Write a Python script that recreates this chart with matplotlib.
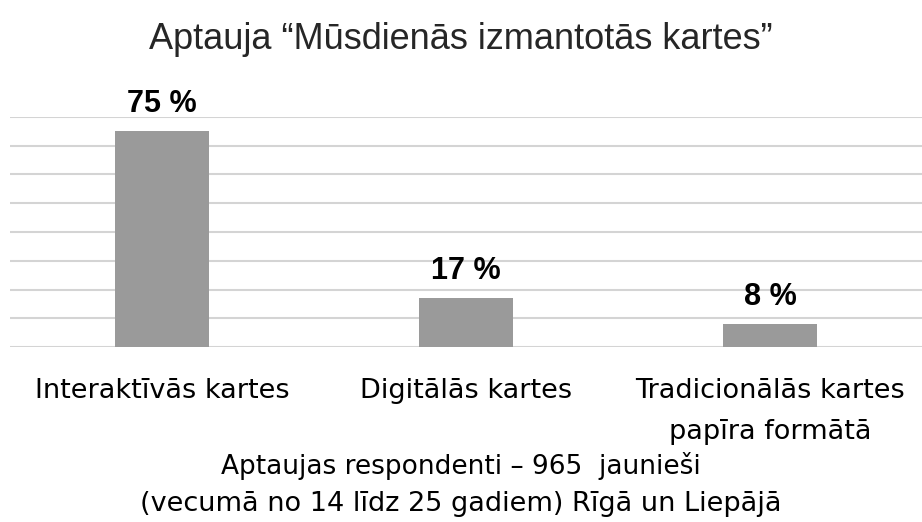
import matplotlib
matplotlib.use("Agg")
import matplotlib.pyplot as plt

# dati
kategorijas = ["Interaktīvās kartes", "Digitālās kartes", "Tradicionālās kartes\npapīra formātā"]
vertibas = [75, 17, 8]
nosaukums = "Aptauja \u201cMūsdienās izmantotās kartes\u201d"
piezime = ["Aptaujas respondenti \u2013 965  jaunieši",
           "(vecumā no 14 līdz 25 gadiem) Rīgā un Liepājā"]

fig = plt.figure(figsize=(9.22, 5.22), dpi=100)
ax = fig.add_axes([0.011, 0.335, 0.989, 0.441])

x = range(len(kategorijas))
ax.bar(x, vertibas, width=0.31, color="#9a9a9a", zorder=2)
ax.set_ylim(0, 80)
ax.set_xlim(-0.5, 2.5)
ax.set_yticks(range(0, 81, 10))
ax.yaxis.grid(True, color="#d4d4d4", linewidth=1.5, zorder=0)
ax.tick_params(axis="y", left=False, labelleft=False)
ax.tick_params(axis="x", bottom=False, pad=19)
for s in ax.spines.values():
    s.set_visible(False)

ax.set_xticks(list(x))
ax.set_xticklabels(kategorijas, fontsize=19.5, family="DejaVu Sans",
                   linespacing=1.75)

# vērtību uzraksti
for i, v in enumerate(vertibas):
    ax.text(i, v + 4.3, f"{v} %", ha="center", va="bottom", fontsize=22,
            fontweight="bold", family="Liberation Sans")

fig.text(0.5, 0.925, nosaukums, ha="center", va="center", fontsize=26,
         family="Liberation Sans", color="#262626")
fig.text(0.5, 0.107, piezime[0], ha="center", va="center", fontsize=19,
         family="DejaVu Sans")
fig.text(0.5, 0.035, piezime[1], ha="center", va="center", fontsize=19.5,
         family="DejaVu Sans")

fig.savefig("out.png", dpi=100)
